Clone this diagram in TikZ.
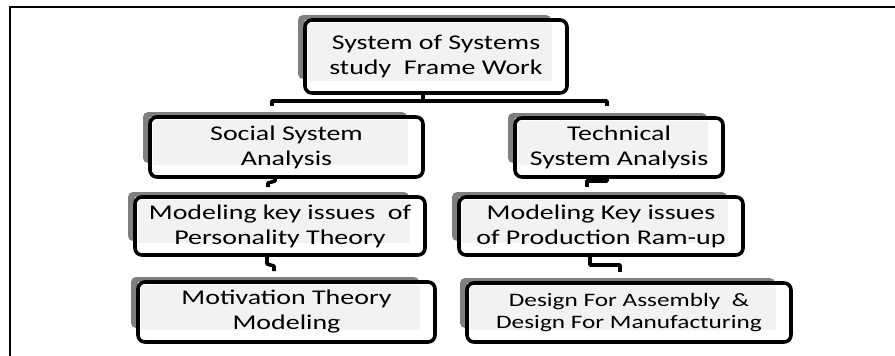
\documentclass[tikz,border=0pt]{standalone}
\usepackage{fontspec}
\setmainfont{Carlito}[FakeStretch=1.33]
\usetikzlibrary{calc}
\definecolor{shadegray}{HTML}{7F7F7F}
\definecolor{lightfill}{HTML}{F2F2F2}
\tikzset{
 boxborder/.style={draw=black, line width=3.6pt, rounded corners=7pt, inner sep=0pt, outer sep=0pt, align=center, text=black},
 shadowrect/.style={fill=shadegray, rounded corners=5pt},
 innerfill/.style={fill=lightfill},
 conn/.style={draw=black, line width=3.6pt, line join=round},
 frameline/.style={draw=black, line width=2.2pt},
 bigtext/.style={font=\fontsize{21}{25}\selectfont},
 smalltext/.style={font=\fontsize{19}{22}\selectfont},
}
\newcommand\mkbox[7]{%
 \fill[shadowrect] ({#2-7},{-(#3-5)}) rectangle ({#4-16},{-(#5-14)});
 \fill[white] (#2,-#3) rectangle (#4,-#5);
 \fill[innerfill] ({#2+3},{-(#3+3)}) rectangle ({#4-15},{-(#5-12)});
 \node[boxborder,#6,minimum width={(#4-#2)*1pt},minimum height={(#5-#3)*1pt}] (#1) at ({(#2+#4)/2},{-(#3+#5)/2}) {#7};
}
\begin{document}
\begin{tikzpicture}[x=1pt,y=1pt]
\useasboundingbox (0,0) rectangle (895,-356);
\draw[frameline] (10,-357) -- (10,-7) -- (896,-7);
% boxes
\mkbox{A}{305}{20}{567}{93}{bigtext}{System of Systems\\study~ Frame Work}
\mkbox{B}{150}{117}{423}{177}{bigtext}{Social System\\Analysis}
\mkbox{C}{515}{118}{723}{177}{bigtext}{Technical\\System Analysis}
\mkbox{D}{135}{197}{425}{255}{bigtext}{Modeling key issues~ of\\Personality Theory}
\mkbox{E}{459}{197}{743}{255}{bigtext}{Modeling Key issues\\of Production Ram-up}
\mkbox{F}{138}{282}{435}{342}{bigtext}{Motivation Theory\\Modeling}
\mkbox{G}{467}{283}{791}{342}{smalltext}{Design For Assembly~ \&\\Design For Manufacturing}
% connector coordinates
\coordinate (aTop) at (423,-101);
\coordinate (busL) at (272,-106);
\coordinate (busLt) at (272,-101);
\coordinate (busR) at (607,-106);
\coordinate (busRt) at (607,-101);
\coordinate (bd1) at (275,-181);
\coordinate (bd2) at (268,-183);
\coordinate (ce1) at (607,-181);
\coordinate (ce2) at (587,-181);
\coordinate (df1) at (267,-264);
\coordinate (df2) at (274,-266);
\coordinate (eg1) at (590,-265);
\coordinate (eg2) at (620,-265);
% connectors
\draw[conn] (A.south -| aTop) -- (aTop);
\draw[conn] (busL) -- (busLt) -- (busRt) -- (busR);
\draw[conn, shorten >=10pt] (B.south -| bd1) -- (bd1) -- (bd2) -- (D.north -| bd2);
\draw[conn, shorten >=10pt] (C.south -| ce1) -- (ce1) -- (ce2) -- (E.north -| ce2);
\draw[conn, shorten >=11pt] (D.south -| df1) -- (df1) -- (df2) -- (F.north -| df2);
\draw[conn, shorten >=11pt] (E.south -| eg1) -- (eg1) -- (eg2) -- (G.north -| eg2);
\end{tikzpicture}
\end{document}
